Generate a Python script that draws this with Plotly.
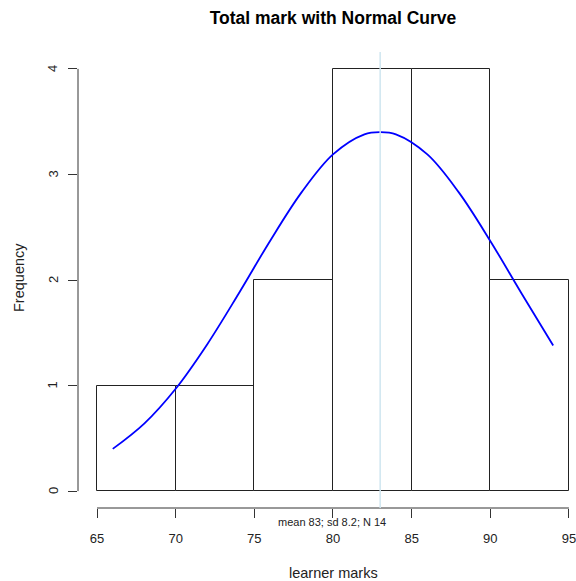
import plotly.graph_objects as go

# Histogram data
bin_left = [65, 70, 75, 80, 85, 90]
bin_right = [70, 75, 80, 85, 90, 95]
counts = [1, 1, 2, 4, 4, 2]

# Normal curve points
curve_x = [66, 68, 70, 72, 74, 76, 78, 80, 82, 83, 84, 86, 88, 90, 92, 94]
curve_y = [0.40, 0.64, 0.97, 1.39, 1.87, 2.37, 2.83, 3.19, 3.38, 3.40, 3.38, 3.19, 2.83, 2.37, 1.87, 1.38]

mean_val = 83
x_ticks = [65, 70, 75, 80, 85, 90, 95]
y_ticks = [0, 1, 2, 3, 4]

FONT = "Liberation Sans, Arial, Helvetica, sans-serif"

centers = [(a + b) / 2 for a, b in zip(bin_left, bin_right)]
widths = [b - a for a, b in zip(bin_left, bin_right)]

fig = go.Figure()
fig.add_trace(go.Bar(
    x=centers, y=counts, width=widths,
    marker=dict(color="white", line=dict(color="#222222", width=1)),
    hoverinfo="skip", showlegend=False,
))
fig.add_trace(go.Scatter(
    x=curve_x, y=curve_y, mode="lines",
    line=dict(color="#0000ff", width=1.8, shape="spline", smoothing=1.0),
    showlegend=False, hoverinfo="skip",
))

shapes = [
    # x axis line
    dict(type="line", xref="x", yref="paper", x0=x_ticks[0], x1=x_ticks[-1], y0=0, y1=0,
         line=dict(color="#333333", width=1)),
    # y axis line
    dict(type="line", xref="paper", yref="y", x0=0, x1=0, y0=y_ticks[0], y1=y_ticks[-1],
         line=dict(color="#333333", width=1)),
    # mean line
    dict(type="line", xref="x", yref="paper", x0=mean_val, x1=mean_val, y0=0, y1=1,
         line=dict(color="#cfe6f0", width=1.5), layer="above"),
]

annotations = [
    dict(text="Frequency", xref="paper", yref="paper", x=-(78 - 19) / 498, y=(508 - 278) / 456,
         showarrow=False, textangle=-90, font=dict(family=FONT, size=14.5, color="#222"),
         xanchor="center", yanchor="middle"),
    dict(text="learner marks", xref="paper", yref="paper", x=(333 - 78) / 498, y=-(573 - 508) / 456,
         showarrow=False, font=dict(family=FONT, size=14.5, color="#222"),
         xanchor="center", yanchor="middle"),
    dict(text="mean 83; sd 8.2; N 14", xref="paper", yref="paper", x=(332 - 78) / 498,
         y=-(522 - 508) / 456, showarrow=False, font=dict(family=FONT, size=11, color="#222"),
         xanchor="center", yanchor="middle"),
]
# y tick labels (rotated, R style)
for v in y_ticks:
    annotations.append(dict(text=str(v), xref="paper", yref="y", x=-(78 - 53) / 498, y=v,
                            showarrow=False, textangle=-90,
                            font=dict(family=FONT, size=13, color="#222"),
                            xanchor="center", yanchor="middle"))

fig.update_layout(
    width=576, height=581,
    margin=dict(l=78, r=0, t=52, b=73, pad=0),
    plot_bgcolor="white", paper_bgcolor="white",
    bargap=0,
    title=dict(text="<b>Total mark with Normal Curve</b>", x=333 / 576, xanchor="center",
               y=1 - 17.5 / 581, yanchor="middle", font=dict(family=FONT, size=17.5, color="black")),
    xaxis=dict(range=[63.79, 95.45], tickvals=x_ticks, ticktext=[str(v) for v in x_ticks],
               showgrid=False, zeroline=False, showline=False, ticks="outside", ticklen=9,
               tickcolor="#333333", tickfont=dict(family=FONT, size=13, color="#222"),
               ticklabelstandoff=9, ticklabeloverflow="allow"),
    yaxis=dict(range=[-0.16, 4.16], tickvals=y_ticks, showticklabels=False,
               showgrid=False, zeroline=False, showline=False, ticks="outside", ticklen=9,
               tickcolor="#333333"),
    shapes=shapes,
    annotations=annotations,
)

fig.write_html("out.html")
